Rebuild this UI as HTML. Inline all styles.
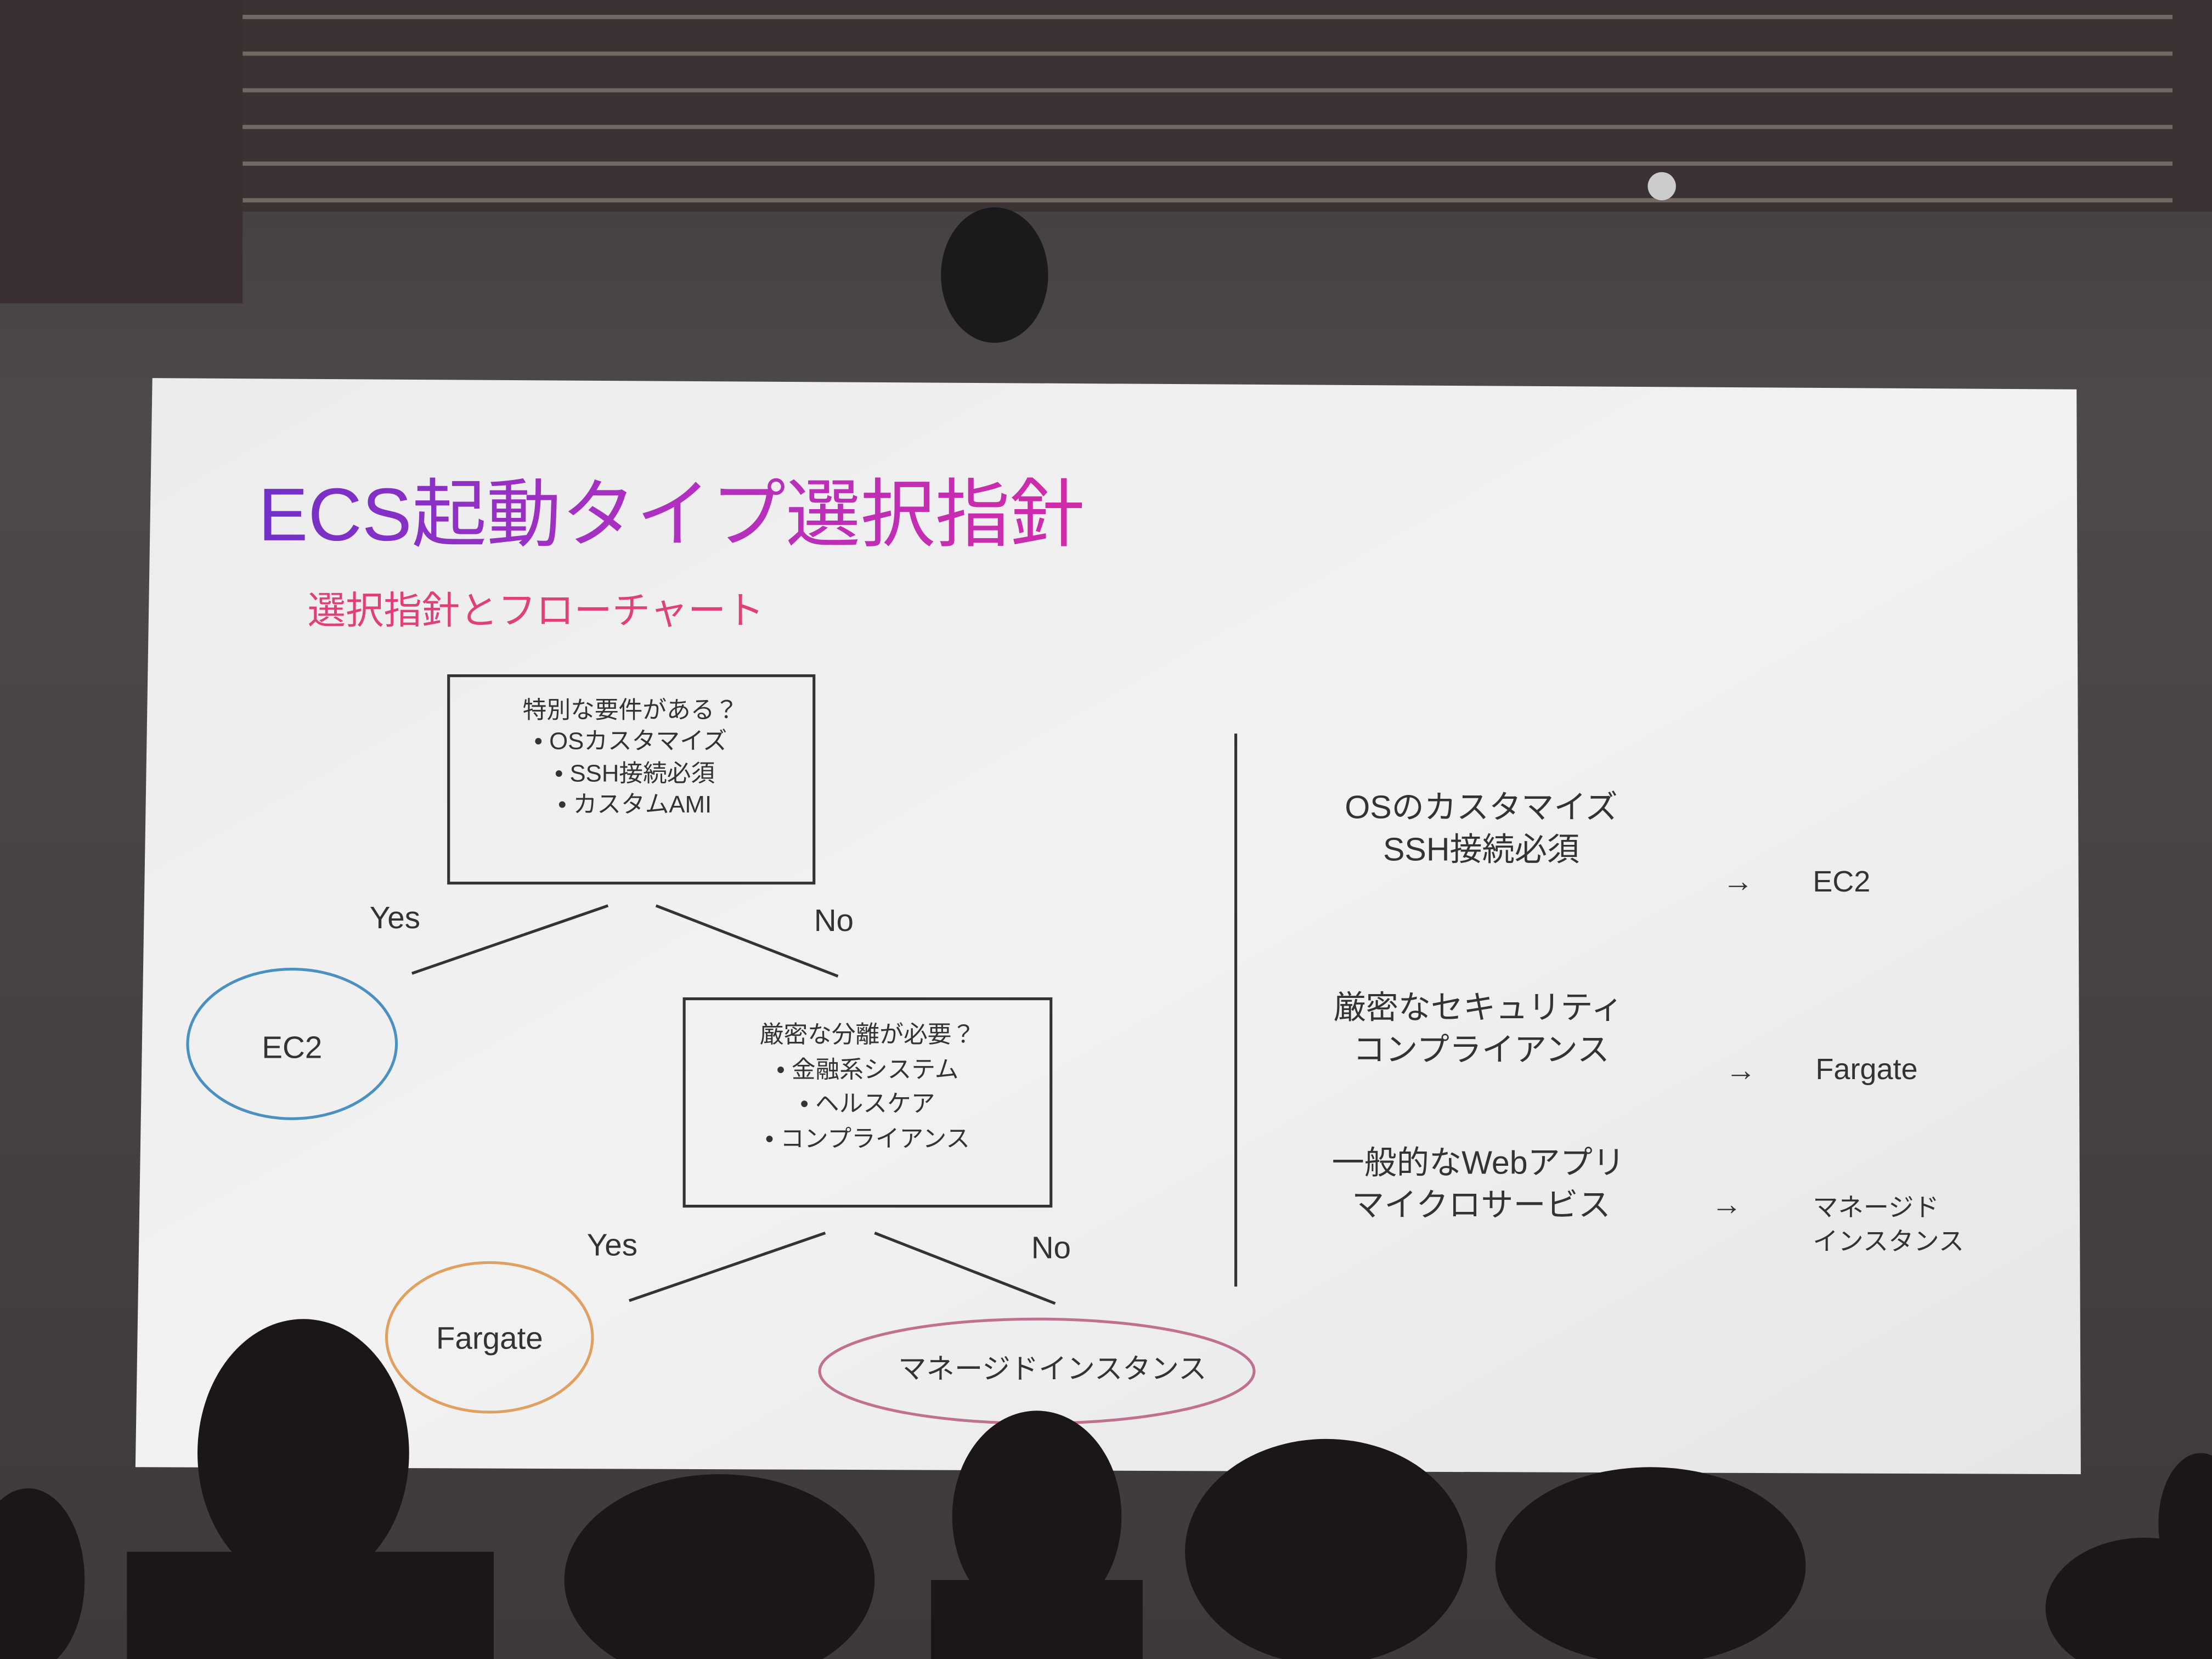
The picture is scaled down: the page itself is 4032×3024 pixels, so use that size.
<!DOCTYPE html>
<html><head><meta charset="utf-8"><style>
html,body{margin:0;padding:0;background:#4a4647;}
svg{display:block}
text{font-family:"Liberation Sans","Noto Sans CJK JP",sans-serif;}
</style></head><body>
<svg width="4032" height="3024" viewBox="0 0 1568 1176" xmlns="http://www.w3.org/2000/svg">
<defs>
<linearGradient id="wall" x1="0" y1="0" x2="0" y2="1">
<stop offset="0" stop-color="#3d3839"/><stop offset="0.25" stop-color="#4e4a4c"/><stop offset="1" stop-color="#3e3a3b"/>
</linearGradient>
<linearGradient id="scr" x1="0" y1="0" x2="1" y2="1">
<stop offset="0" stop-color="#ececec"/><stop offset="0.5" stop-color="#f2f2f2"/><stop offset="1" stop-color="#e6e6e8"/>
</linearGradient>
<linearGradient id="title" x1="0" y1="0" x2="1" y2="0">
<stop offset="0" stop-color="#7030c8"/><stop offset="0.5" stop-color="#b030c0"/><stop offset="1" stop-color="#d02ca8"/>
</linearGradient>
</defs>
<rect width="1568" height="1176" fill="url(#wall)"/>
<rect x="0" y="0" width="1568" height="150" fill="#3a3233"/>
<g stroke="#8a7e78" stroke-width="3" opacity="0.7">
<line x1="170" y1="12" x2="1540" y2="12"/><line x1="170" y1="38" x2="1540" y2="38"/>
<line x1="170" y1="64" x2="1540" y2="64"/><line x1="170" y1="90" x2="1540" y2="90"/>
<line x1="170" y1="116" x2="1540" y2="116"/><line x1="170" y1="142" x2="1540" y2="142"/>
</g>
<rect x="0" y="0" width="172" height="215" fill="#3a3031"/>
<ellipse cx="705" cy="195" rx="38" ry="48" fill="#1a1a1c"/>
<ellipse cx="1178" cy="132" rx="10" ry="10" fill="#ccc"/>
<polygon points="108,268 1472,276 1475,1045 96,1040" fill="url(#scr)"/>
<text x="183" y="383" font-size="53" fill="url(#title)">ECS起動タイプ選択指針</text>
<text x="218" y="442" font-size="27" fill="#e0407a">選択指針とフローチャート</text>
<g fill="none" stroke="#333" stroke-width="2">
<rect x="318" y="479" width="259" height="147"/>
<rect x="485" y="708" width="260" height="147"/>
<line x1="431" y1="642" x2="292" y2="690"/><line x1="465" y1="642" x2="594" y2="692"/>
<line x1="585" y1="874" x2="446" y2="922"/><line x1="620" y1="874" x2="748" y2="924"/>
<line x1="876" y1="520" x2="876" y2="912"/>
</g>
<ellipse cx="207" cy="740" rx="74" ry="53" fill="none" stroke="#4a90c0" stroke-width="2"/>
<ellipse cx="347" cy="948" rx="73" ry="53" fill="none" stroke="#e0a060" stroke-width="2"/>
<ellipse cx="735" cy="972" rx="154" ry="37" fill="none" stroke="#c07090" stroke-width="2"/>
<g font-size="17" fill="#333" text-anchor="middle">
<text x="447" y="509">特別な要件がある？</text>
<text x="447" y="531">• OSカスタマイズ</text>
<text x="450" y="554">• SSH接続必須</text>
<text x="450" y="576">• カスタムAMI</text>
<text x="615" y="739">厳密な分離が必要？</text>
<text x="615" y="764">• 金融系システム</text>
<text x="615" y="788">• ヘルスケア</text>
<text x="615" y="813">• コンプライアンス</text>
</g>
<g font-size="22" fill="#333">
<text x="262" y="658">Yes</text><text x="577" y="660">No</text>
<text x="416" y="890">Yes</text><text x="731" y="892">No</text>
<text x="207" y="750" text-anchor="middle">EC2</text>
<text x="347" y="956" text-anchor="middle">Fargate</text>
<text x="746" y="977" text-anchor="middle" font-size="20">マネージドインスタンス</text>
<text x="1050" y="580" text-anchor="middle" font-size="23">OSのカスタマイズ</text>
<text x="1050" y="610" text-anchor="middle" font-size="23">SSH接続必須</text>
<text x="1232" y="632" text-anchor="middle">→</text>
<text x="1285" y="632" font-size="21">EC2</text>
<text x="1048" y="722" text-anchor="middle" font-size="23">厳密なセキュリティ</text>
<text x="1050" y="752" text-anchor="middle" font-size="23">コンプライアンス</text>
<text x="1234" y="766" text-anchor="middle">→</text>
<text x="1287" y="765" font-size="21">Fargate</text>
<text x="1048" y="832" text-anchor="middle" font-size="23">一般的なWebアプリ</text>
<text x="1050" y="862" text-anchor="middle" font-size="23">マイクロサービス</text>
<text x="1224" y="861" text-anchor="middle">→</text>
<text x="1285" y="862" font-size="18">マネージド</text>
<text x="1285" y="886" font-size="18">インスタンス</text>
</g>
<g fill="#1b1717">
<ellipse cx="215" cy="1030" rx="75" ry="95"/><rect x="90" y="1100" width="260" height="80"/>
<ellipse cx="20" cy="1120" rx="40" ry="65"/>
<ellipse cx="510" cy="1120" rx="110" ry="75"/>
<ellipse cx="735" cy="1075" rx="60" ry="75"/><rect x="660" y="1120" width="150" height="60"/>
<ellipse cx="940" cy="1100" rx="100" ry="80"/>
<ellipse cx="1170" cy="1110" rx="110" ry="70"/>
<ellipse cx="1520" cy="1140" rx="70" ry="50"/>
<ellipse cx="1560" cy="1080" rx="30" ry="50"/>
</g>
</svg>
</body></html>
